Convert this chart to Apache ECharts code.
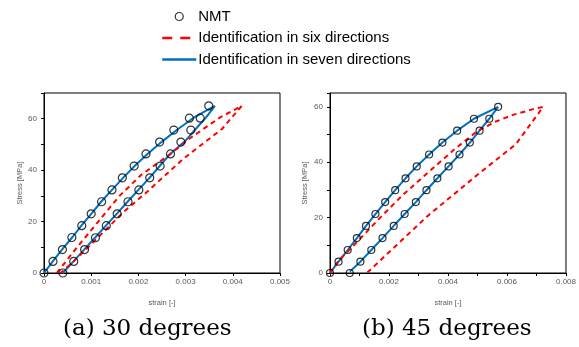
<!DOCTYPE html>
<html>
<head>
<meta charset="utf-8">
<script src="https://cdn.jsdelivr.net/npm/echarts@6/dist/echarts.min.js"></script>
<style>
html,body{margin:0;padding:0;background:#fff;}
#c{width:579px;height:347px;}
</style>
</head>
<body>
<div id="c"></div>
<script>
// ---- (a) 30 degrees ----
const nmtA_strain = [0, 0.00019, 0.00039, 0.00059, 0.00080, 0.00100, 0.00122, 0.00144, 0.00166, 0.00191, 0.00216, 0.00245, 0.00275, 0.00308, 0.00349,
                     0.00331, 0.00311, 0.00290, 0.00268, 0.00246, 0.00224, 0.00201, 0.00178, 0.00155, 0.00132, 0.00109, 0.00086, 0.00063, 0.00040];
const nmtA_stress = [0, 4.5, 9.1, 13.8, 18.4, 23.0, 27.7, 32.3, 37.0, 41.6, 46.3, 50.9, 55.6, 60.2, 65.0,
                     60.2, 55.6, 50.9, 46.3, 41.6, 37.0, 32.3, 27.7, 23.0, 18.4, 13.7, 9.1, 4.5, 0];
const sevenA_strain = [0, 0.00019, 0.00039, 0.00060, 0.00080, 0.00101, 0.00122, 0.00145, 0.00168, 0.00193, 0.00220, 0.00250, 0.00282, 0.00317, 0.00362,
                       0.00343, 0.00320, 0.00298, 0.00268, 0.00246, 0.00224, 0.00201, 0.00178, 0.00155, 0.00132, 0.00109, 0.00086, 0.00063, 0.00040];
const sevenA_stress = [0, 4.6, 9.3, 13.9, 18.6, 23.2, 27.9, 32.5, 37.1, 41.8, 46.4, 51.1, 55.7, 60.4, 65.0,
                       60.4, 55.7, 51.1, 46.4, 41.8, 37.1, 32.5, 27.9, 23.2, 18.6, 13.9, 9.3, 4.6, 0];
const sixA_strain = [0.00027, 0.00070, 0.00115, 0.00160, 0.00205, 0.00268, 0.00310, 0.00373, 0.00419,
                     0.00377, 0.00295, 0.00215, 0.00170, 0.00110, 0.00060, 0.00035];
const sixA_stress = [0, 10, 20, 30, 38, 46.3, 52.5, 60.5, 65.0,
                     56.0, 44.4, 31.0, 24.0, 13.0, 4.0, 0];

// ---- (b) 45 degrees ----
const nmtB_strain = [0, 0.00029, 0.00060, 0.00091, 0.00122, 0.00154, 0.00187, 0.00221, 0.00256, 0.00294, 0.00336, 0.00381, 0.00431, 0.00488, 0.00570,
                     0.00540, 0.00507, 0.00474, 0.00439, 0.00402, 0.00364, 0.00327, 0.00291, 0.00253, 0.00216, 0.00178, 0.00140, 0.00103, 0.00067];
const nmtB_stress = [0, 4.1, 8.3, 12.6, 17.0, 21.3, 25.6, 29.9, 34.2, 38.5, 42.8, 47.1, 51.4, 55.7, 60.0,
                     55.7, 51.4, 47.1, 42.8, 38.5, 34.2, 29.9, 25.6, 21.3, 17.0, 12.6, 8.3, 4.1, 0];
const sevenB_strain = [0, 0.00029, 0.00060, 0.00091, 0.00122, 0.00154, 0.00187, 0.00221, 0.00256, 0.00294, 0.00336, 0.00381, 0.00431, 0.00488, 0.00570,
                       0.00540, 0.00507, 0.00474, 0.00439, 0.00402, 0.00364, 0.00327, 0.00291, 0.00253, 0.00216, 0.00178, 0.00140, 0.00103, 0.00067];
const sevenB_stress = [0, 4.1, 8.3, 12.6, 17.0, 21.3, 25.6, 29.9, 34.2, 38.5, 42.8, 47.1, 51.4, 55.7, 60.0,
                       55.7, 51.4, 47.1, 42.8, 38.5, 34.2, 29.9, 25.6, 21.3, 17.0, 12.6, 8.3, 4.1, 0.5];
const sixB_strain = [0, 0.00027, 0.00090, 0.00170, 0.00250, 0.00340, 0.00420, 0.00500, 0.00560, 0.00620, 0.00680, 0.00722,
                     0.00711, 0.00630, 0.00500, 0.00330, 0.00125];
const sixB_stress = [0, 4.2, 11.0, 20.0, 28.5, 37.0, 44.5, 51.3, 54.6, 57.1, 58.9, 60.0,
                     58.3, 46.5, 35.5, 20.5, 0];

const yTicks = [0, 20, 40, 60];
const xTicksA = ['0', '0.001', '0.002', '0.003', '0.004', '0.005'];
const xTicksB = ['0', '0.002', '0.004', '0.006', '0.008'];

const zip = (a, b) => a.map((v, i) => [v, b[i]]);

const GRAY = '#595959';
const BLUE = '#0070C0';
const RED = '#FF0000';
const tickFont = {fontFamily: 'Liberation Sans', fontSize: 8, color: GRAY};

function xAxis(gi, max, shown) {
  return {
    type: 'value', gridIndex: gi, min: 0, max: max, interval: 0.001,
    name: 'strain [-]', nameLocation: 'middle', nameGap: 26,
    nameTextStyle: {fontFamily: 'Liberation Sans', fontSize: 7.5, color: GRAY},
    axisLine: {show: true, onZero: false, lineStyle: {color: '#000', width: 1}},
    axisTick: {show: true, inside: false, length: 3, lineStyle: {color: '#000'}},
    splitLine: {show: false},
    axisLabel: Object.assign({margin: 5, formatter: function (v) {
      const s = v === 0 ? '0' : v.toFixed(3);
      return shown.indexOf(s) >= 0 ? s : '';
    }}, tickFont)
  };
}
function yAxis(gi, max, gap) {
  return {
    type: 'value', gridIndex: gi, min: 0, max: max, interval: 10,
    name: 'Stress [MPa]', nameLocation: 'middle', nameGap: gap, nameRotate: 90,
    nameTextStyle: {fontFamily: 'Liberation Sans', fontSize: 7.5, color: GRAY},
    axisLine: {show: true, onZero: false, lineStyle: {color: '#000', width: 1}},
    axisTick: {show: true, inside: false, length: 3, lineStyle: {color: '#000'}},
    splitLine: {show: false},
    axisLabel: Object.assign({margin: 7, formatter: function (v) {
      return yTicks.indexOf(v) >= 0 ? String(v) : '';
    }}, tickFont)
  };
}

const nmtStyle = {color: 'rgba(0,0,0,0)', borderColor: '#000', borderWidth: 1.2};

const option = {
  animation: false,
  backgroundColor: '#fff',
  legend: {
    orient: 'vertical', left: 156, top: 4,
    itemWidth: 34, itemHeight: 8, itemGap: 6.5,
    textStyle: {fontFamily: 'Liberation Sans', fontSize: 15, color: '#000', padding: [0, 0, 0, -3]},
    data: [
      {name: 'NMT', icon: 'circle', itemStyle: {color: 'rgba(0,0,0,0)', borderColor: '#000', borderWidth: 1.2}},
      {name: 'Identification in six directions', lineStyle: {type: [10, 8], width: 2.5}, itemStyle: {opacity: 0}},
      {name: 'Identification in seven directions', lineStyle: {width: 2.5}, itemStyle: {opacity: 0}}
    ]
  },
  grid: [
    {left: 44, top: 93, width: 236, height: 180, show: true, borderColor: '#000', borderWidth: 1, backgroundColor: 'transparent'},
    {left: 330, top: 93, width: 236, height: 180, show: true, borderColor: '#000', borderWidth: 1, backgroundColor: 'transparent'}
  ],
  xAxis: [xAxis(0, 0.005, xTicksA), xAxis(1, 0.008, xTicksB)],
  yAxis: [yAxis(0, 70, 20), yAxis(1, 65, 21)],
  graphic: [
    {type: 'text', left: 63, top: 318, style: {text: '(a) 30 degrees', font: '23px "DejaVu Serif"', fill: '#000'}},
    {type: 'text', left: 362, top: 318, style: {text: '(b) 45 degrees', font: '23px "DejaVu Serif"', fill: '#000'}}
  ],
  series: [
    {name: 'Identification in seven directions', type: 'line', xAxisIndex: 0, yAxisIndex: 0,
     data: zip(sevenA_strain, sevenA_stress), showSymbol: false, symbol: 'none',
     lineStyle: {color: BLUE, width: 2}, itemStyle: {color: BLUE}, z: 2},
    {name: 'Identification in six directions', type: 'line', xAxisIndex: 0, yAxisIndex: 0,
     data: zip(sixA_strain, sixA_stress), showSymbol: false, symbol: 'none',
     lineStyle: {color: RED, width: 2, type: [5, 4]}, itemStyle: {color: RED}, z: 3},
    {name: 'NMT', type: 'scatter', xAxisIndex: 0, yAxisIndex: 0,
     data: zip(nmtA_strain, nmtA_stress), symbol: 'circle', symbolSize: 8,
     itemStyle: nmtStyle, z: 4},
    {name: 'Identification in seven directions', type: 'line', xAxisIndex: 1, yAxisIndex: 1,
     data: zip(sevenB_strain, sevenB_stress), showSymbol: false, symbol: 'none',
     lineStyle: {color: BLUE, width: 2}, itemStyle: {color: BLUE}, z: 2},
    {name: 'Identification in six directions', type: 'line', xAxisIndex: 1, yAxisIndex: 1,
     data: zip(sixB_strain, sixB_stress), showSymbol: false, symbol: 'none',
     lineStyle: {color: RED, width: 2, type: [5, 4]}, itemStyle: {color: RED}, z: 3},
    {name: 'NMT', type: 'scatter', xAxisIndex: 1, yAxisIndex: 1,
     data: zip(nmtB_strain, nmtB_stress), symbol: 'circle', symbolSize: 7,
     itemStyle: nmtStyle, z: 4}
  ]
};

const chart = echarts.init(document.getElementById('c'), null, {renderer: 'canvas'});
chart.setOption(option);
</script>
</body>
</html>
